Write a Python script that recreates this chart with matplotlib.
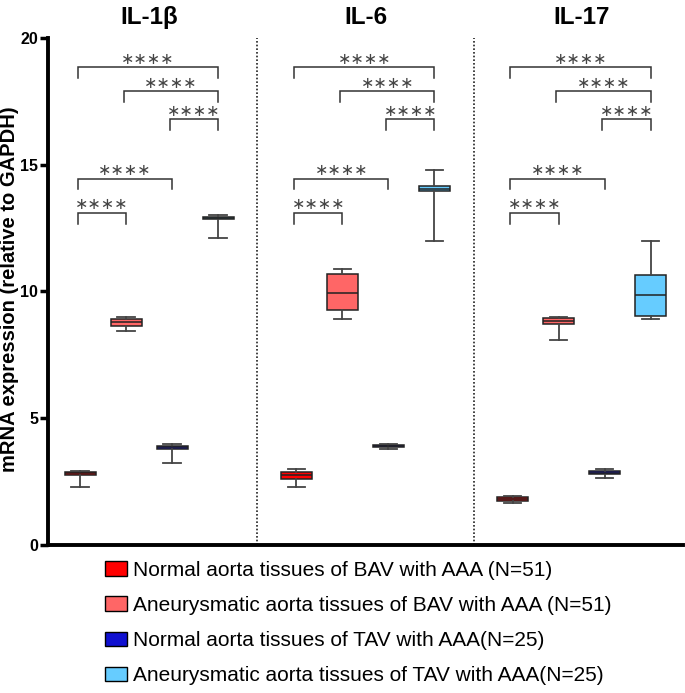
import numpy as np
from matplotlib import pyplot as plt
from matplotlib.patches import Patch

plt.rcParams['font.family'] = ['Liberation Sans', 'DejaVu Sans']

# cytokine panels
cytokines = ['IL-1β', 'IL-6', 'IL-17']
groups = ['Normal aorta tissues of BAV with AAA (N=51)',
          'Aneurysmatic aorta tissues of BAV with AAA (N=51)',
          'Normal aorta tissues of TAV with AAA(N=25)',
          'Aneurysmatic aorta tissues of TAV with AAA(N=25)']
colors = ['#ff0000', '#ff6666', '#1010d0', '#66ccff']

# box stats per group: (whisker low, q1, median, q3, whisker high)
il1b = [(2.3, 2.77, 2.82, 2.86, 2.9),
        (8.45, 8.65, 8.8, 8.9, 9.0),
        (3.25, 3.77, 3.85, 3.92, 4.0),
        (12.1, 12.85, 12.9, 12.95, 13.0)]
il6 = [(2.3, 2.62, 2.75, 2.86, 3.0),
       (8.9, 9.25, 9.95, 10.7, 10.9),
       (3.8, 3.87, 3.9, 3.93, 4.0),
       (12.0, 13.97, 14.05, 14.15, 14.8)]
il17 = [(1.65, 1.75, 1.82, 1.9, 1.93),
        (8.1, 8.7, 8.82, 8.95, 9.0),
        (2.65, 2.8, 2.85, 2.9, 3.0),
        (8.9, 9.05, 9.85, 10.65, 12.0)]
panels = [il1b, il6, il17]

# significance brackets (group index pairs, bracket height, label)
sig_pairs = [(0, 3), (1, 3), (2, 3), (0, 2), (0, 1)]
sig_heights = [18.85, 17.9, 16.8, 14.45, 13.1]
sig_labels = ['∗∗∗∗'] * 5

fig = plt.figure(figsize=(6.85, 6.93), dpi=100)
ax = fig.add_axes([0.070, 0.2136, 0.927, 0.7316])

gap = 4.7
for p, stats in enumerate(panels):
    base = p * gap
    bxp_stats = []
    for lo, q1, med, q3, hi in stats:
        bxp_stats.append(dict(whislo=lo, q1=q1, med=med, q3=q3, whishi=hi, fliers=[]))
    pos = base + np.arange(4)
    b = ax.bxp(bxp_stats, positions=pos, widths=0.68, patch_artist=True,
               showfliers=False, manage_ticks=False,
               boxprops=dict(edgecolor='#222222', linewidth=1.1),
               medianprops=dict(color='#222222', linewidth=1.1),
               whiskerprops=dict(color='#444444', linewidth=1.3),
               capprops=dict(color='#444444', linewidth=1.3),
               capwidths=0.38)
    for patch, c in zip(b['boxes'], colors):
        patch.set_facecolor(c)

    # brackets
    for (i, j), h, lab in zip(sig_pairs, sig_heights, sig_labels):
        x1 = base + i - 0.05
        x2 = base + j
        ax.plot([x1, x1, x2, x2], [h - 0.42, h, h, h - 0.42],
                color='#333333', lw=1.1, solid_joinstyle='miter')
        ax.text((x1 + x2) / 2, h + 0.02, lab, ha='center', va='bottom',
                fontsize=11.5, color='#444444', family='DejaVu Sans')

    ax.text(base + 1.5, 1.04, cytokines[p], transform=ax.get_xaxis_transform(),
            ha='center', va='center', fontsize=17.5, fontweight='bold')

    if p < 2:
        ax.axvline(base + 3.85, ymin=0, ymax=1, color='#222222', lw=1.2,
                   linestyle=(0, (1, 1.2)))

ax.set_xlim(-0.7, 13.1)
ax.set_ylim(0, 20)
ax.set_yticks([0, 5, 10, 15, 20])
ax.set_xticks([])
for lab in ax.get_yticklabels():
    lab.set_fontweight('bold')
ax.tick_params(axis='y', labelsize=11.5, width=2.5, length=6, pad=1)
ax.spines['top'].set_visible(False)
ax.spines['right'].set_visible(False)
ax.spines['left'].set_linewidth(2.8)
ax.spines['bottom'].set_linewidth(2.8)
ax.set_ylabel('mRNA expression (relative to GAPDH)', fontsize=14.5,
              fontweight='bold')
ax.yaxis.set_label_coords(-0.046, 0.505)

handles = [Patch(facecolor=c, edgecolor='black', linewidth=1) for c in colors]
fig.legend(handles, groups, loc='upper left', bbox_to_anchor=(0.141, 0.203),
           frameon=False, fontsize=15, handlelength=1.05, handleheight=0.7,
           labelspacing=0.78, handletextpad=0.3, borderaxespad=0)

fig.savefig('out.png', dpi=100)
